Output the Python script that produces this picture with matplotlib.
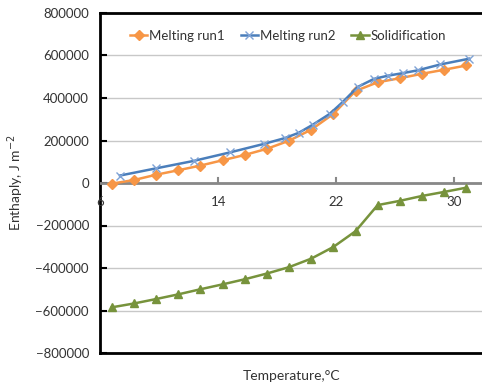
import matplotlib
matplotlib.use("Agg")
import matplotlib.pyplot as plt

# Data
t_run1 = [6.8, 8.3, 9.8, 11.3, 12.8, 14.3, 15.8, 17.3, 18.8, 20.3, 21.8, 23.3, 24.8, 26.3, 27.8, 29.3, 30.8]
h_run1 = [-3000, 14000, 39000, 60000, 82000, 107000, 132000, 161000, 199000, 251000, 325000,
          433000, 474000, 493000, 514000, 533000, 553000]

t_run2 = [7.35, 9.8, 12.35, 14.8, 17.1, 18.5, 19.45, 20.4, 21.55, 22.45, 23.45, 24.55, 25.5,
          26.5, 27.5, 29.05, 31.0]
h_run2 = [35000, 69000, 104000, 144000, 184000, 211000, 236000, 274000, 325000, 382000, 452000,
          490000, 505000, 517000, 530000, 558000, 585000]

t_sol = [6.8, 8.3, 9.8, 11.3, 12.8, 14.3, 15.8, 17.3, 18.8, 20.3, 21.8, 23.3, 24.8, 26.3, 27.8, 29.3, 30.8]
h_sol = [-585000, -567000, -546000, -524000, -500000, -477000, -453000, -426000, -396000,
         -356000, -301000, -227000, -104000, -84000, -61000, -42000, -22000]

x_ticks = [6, 14, 22, 30]
y_ticks = [-800000, -600000, -400000, -200000, 0, 200000, 400000, 600000, 800000]

plt.rcParams['font.family'] = ['Lato', 'DejaVu Sans']

fig = plt.figure(figsize=(4.82, 3.85), dpi=100)
ax = fig.add_axes([100/482, 1-353/385, 384/482, 340/385])

c1, c2, c3 = '#F79646', '#4A7EBB', '#77933C'
ax.plot(t_run1, h_run1, color=c1, lw=1.8, marker='D', ms=5, mec=c1, mfc=c1, label='Melting run1', zorder=4)
ax.plot(t_run2, h_run2, color=c2, lw=1.8, marker='x', ms=6, mew=1.0, mec='#7FA3D6', label='Melting run2', zorder=5)
ax.plot(t_sol, h_sol, color=c3, lw=1.8, marker='^', ms=6, mec=c3, mfc=c3, label='Solidification', zorder=4)

ax.set_xlim(6, 32)
ax.set_ylim(-800000, 800000)
ax.set_yticks(y_ticks)
ax.set_xticks(x_ticks)
ax.yaxis.grid(True, color='#C8C8C8', lw=1.0)
ax.set_axisbelow(True)

ax.spines['right'].set_visible(False)
for s in ['left', 'top', 'bottom']:
    ax.spines[s].set_linewidth(2.0)
    ax.spines[s].set_color('black')
ax.axhline(0, color='#888888', lw=2.0, zorder=3)

ax.tick_params(axis='y', direction='in', length=5, width=1.5, labelsize=9.5, pad=8,
               colors='black', labelcolor='#333333')
ax.tick_params(axis='x', bottom=False, labelbottom=False)

# x ticks & labels near the zero line
for xv in x_ticks:
    if xv != 6:
        ax.plot([xv, xv], [0, 22000], color='#888888', lw=1.5, zorder=3)
    ax.text(xv, -90000, str(xv), ha='center', va='center', fontsize=9.5, color='#333333', zorder=6)

ax.set_ylabel('Enthaply, J m$^{-2}$', fontsize=10, color='#333333', va='center')
ax.yaxis.set_label_coords(-84/384, 0.5)
ax.set_xlabel('Temperature,°C', fontsize=10, color='#333333', labelpad=12)

leg = ax.legend(loc='upper center', bbox_to_anchor=(0.49, 0.985), ncol=3, frameon=False,
                fontsize=9.5, handlelength=1.3, handletextpad=0.15, columnspacing=1.2)
for t in leg.get_texts():
    t.set_color('#333333')

fig.savefig('out.png', dpi=100)
